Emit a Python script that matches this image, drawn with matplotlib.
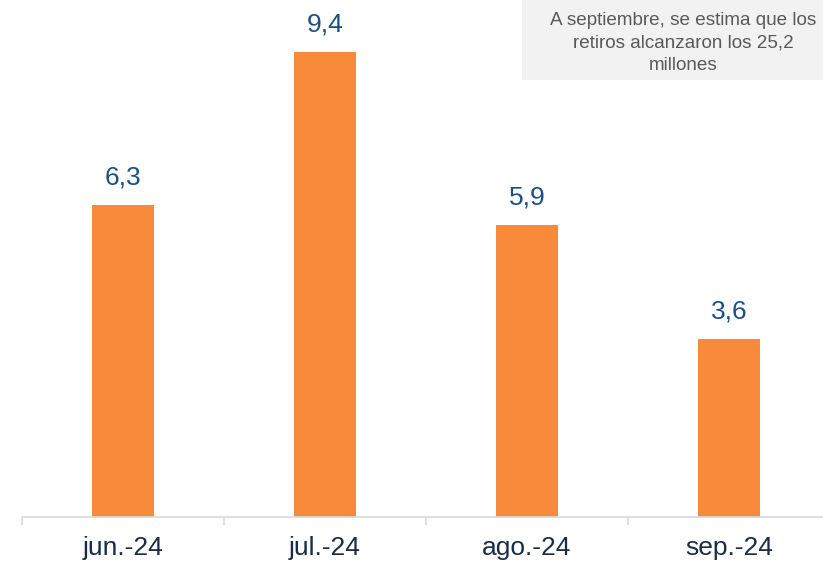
import matplotlib
matplotlib.use("Agg")
import matplotlib.pyplot as plt
from matplotlib.patches import Rectangle

categories = ["jun.-24", "jul.-24", "ago.-24", "sep.-24"]
values = [6.3, 9.4, 5.9, 3.6]
value_labels = ["6,3", "9,4", "5,9", "3,6"]
note = "A septiembre, se estima que los\nretiros alcanzaron los 25,2\nmillones"

plt.rcParams['font.family'] = ['Liberation Sans', 'DejaVu Sans']

W, H = 823, 563
fig = plt.figure(figsize=(W / 100, H / 100), dpi=100)
ax = fig.add_axes([22 / W, 46 / H, 808 / W, 495 / H])

x = list(range(len(categories)))
bars = ax.bar(x, values, width=0.31, color="#F78B3B", zorder=2)
for xi, v, lab in zip(x, values, value_labels):
    ax.annotate(lab, (xi, v), xytext=(0, 11), textcoords="offset points",
                ha="center", va="bottom", fontsize=19, color="#1A4F86")

ax.set_xlim(-0.5, len(categories) - 0.5)
ax.set_ylim(0, 10)
ax.set_yticks([])
for s in ["left", "right", "top"]:
    ax.spines[s].set_visible(False)
ax.spines["bottom"].set_color("#D9D9D9")
ax.spines["bottom"].set_linewidth(1.2)

ax.set_xticks(x)
ax.set_xticklabels(categories, fontsize=19, color="#1C2B4A")
ax.tick_params(axis="x", which="major", length=0, pad=14)
ax.set_xticks([i - 0.5 for i in range(len(categories) + 1)], minor=True)
ax.tick_params(axis="x", which="minor", length=6, color="#D9D9D9", width=1.2)

fig.patches.append(Rectangle((522 / W, 1 - 80 / H), (W - 522) / W, 80 / H,
                             transform=fig.transFigure, facecolor="#F2F2F2",
                             edgecolor="none", zorder=0))
fig.text(683 / W, 1 - 43 / H, note, ha="center", va="center", fontsize=13.6,
         color="#595959", linespacing=1.42)

fig.savefig("out.png", dpi=100)
